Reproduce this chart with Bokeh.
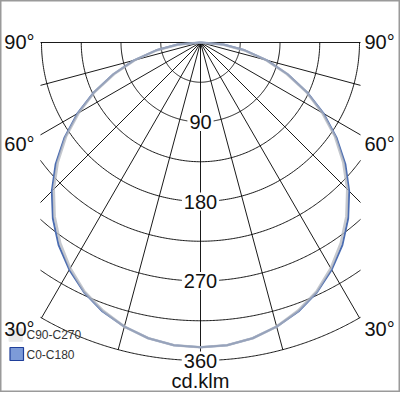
import numpy as np
from bokeh.plotting import figure
from bokeh.models import ColumnDataSource
from bokeh.core.properties import value
from bokeh.embed import file_html
from bokeh.resources import INLINE

# ---- data (cd/klm), angles measured from nadir ----
gamma = [0, 5, 10, 15, 20, 25, 30, 35, 40, 45, 50, 55, 60, 65, 70, 75, 80, 85, 90]
c0_c180 = [345, 344, 340, 333, 324, 312, 297, 280, 260, 238, 214, 188, 161, 133, 105, 78, 51, 26, 0]
c90_c270 = [345, 344, 340, 333, 323, 311, 295, 277, 257, 235, 211, 186, 159, 132, 104, 77, 50, 25, 0]
radial_ticks = [90, 180, 270, 360]
grid_step = 45
ray_angles = [-90, -75, -60, -45, -30, -15, 0, 15, 30, 45, 60, 75, 90]
angle_labels = ["90°", "60°", "30°"]
series_names = ["C90-C270", "C0-C180"]
unit_label = "cd.klm"

# ---- layout (reference pixels) ----
W = 400
H = 392
CX, CY = 200, 42          # pole position in page pixels
PX_PER_UNIT = 318 / 360   # 360 cd/klm -> 318 px
UPP = 1 / PX_PER_UNIT
def sx(px): return (px - CX) * UPP
def sy(py): return -(py - CY) * UPP
XLIM = sx(360)            # horizontal clip of the grid
RMAX = max(radial_ticks)

p = figure(width=W, height=H, output_backend="svg", toolbar_location=None,
           x_range=(sx(0), sx(W)), y_range=(sy(H), sy(0)),
           min_border=0, match_aspect=False)
p.axis.visible = False
p.grid.visible = False
p.outline_line_color = "#9a9a9a"
p.outline_line_width = 2
p.background_fill_color = "white"
p.border_fill_color = "white"

# ---- grid arcs ----
xs, ys = [], []
for R in range(grid_step, RMAX + 1, grid_step):
    if R <= XLIM:
        t = np.linspace(-np.pi / 2, np.pi / 2, 240)
    else:
        tmax = np.arcsin(XLIM / R)
        t = np.linspace(-tmax, tmax, 240)
    xs.append(list(R * np.sin(t)))
    ys.append(list(-R * np.cos(t)))
p.multi_line(xs, ys, line_color="black", line_width=0.9)

# ---- rays ----
rx, ry = [], []
for a in ray_angles:
    t = np.radians(a)
    s, c = np.sin(t), np.cos(t)
    r_end = RMAX
    if abs(s) > 1e-9:
        r_end = min(RMAX, XLIM / abs(s))
    rx.append([0, r_end * s])
    ry.append([0, -r_end * c])
p.multi_line(rx, ry, line_color="black", line_width=0.9)

# ---- curves ----
def polar_curve(vals):
    g = np.radians(np.array(gamma, dtype=float))
    v = np.array(vals, dtype=float)
    left_x = -(v * np.sin(g))[::-1]
    left_y = -(v * np.cos(g))[::-1]
    right_x = v * np.sin(g)
    right_y = -v * np.cos(g)
    return list(np.concatenate([left_x, right_x[1:]])), list(np.concatenate([left_y, right_y[1:]]))

bx, by = polar_curve(c0_c180)
gx, gy = polar_curve(c90_c270)
p.line(bx, by, line_color="#4a6cb2", line_width=2, line_join="round")
p.line(gx, gy, line_color="#b2b6be", line_width=2.6, line_alpha=0.75, line_join="round")

# ---- radial labels with white background ----
lab_src = ColumnDataSource(dict(x=[0] * len(radial_ticks), y=[-r for r in radial_ticks],
                                t=[str(r) for r in radial_ticks]))
p.text("x", "y", text="t", source=lab_src, text_font=value("Liberation Sans"),
       text_font_size="20px", text_align="center", text_baseline="middle",
       text_color="#111111", background_fill_color="white", padding=2)

# ---- legend swatches (below the angle labels) ----
p.quad(left=[sx(8.5)], right=[sx(22)], top=[sy(328)], bottom=[sy(341)],
       fill_color="#e2e2e2", fill_alpha=0.8, line_color="#ececec", line_width=1)
p.quad(left=[sx(9.5)], right=[sx(23)], top=[sy(347)], bottom=[sy(360)],
       fill_color="#7d9bd8", line_color="#1f3f9a", line_width=1.2)

# ---- angle labels ----
ang_y = [sy(41), sy(143), sy(328)]
p.text([sx(34)] * 3, ang_y, text=angle_labels, text_font=value("Liberation Sans"),
       text_font_size="20px", text_align="right", text_baseline="middle", text_color="#111111")
p.text([sx(364)] * 3, ang_y, text=angle_labels, text_font=value("Liberation Sans"),
       text_font_size="20px", text_align="left", text_baseline="middle", text_color="#111111")

# ---- unit label ----
p.text([0], [sy(380)], text=[unit_label], text_font=value("Liberation Sans"),
       text_font_size="20px", text_align="center", text_baseline="middle", text_color="#111111")

# ---- legend labels ----
p.text([sx(26), sx(26)], [sy(334), sy(354)], text=series_names,
       text_font=value("Liberation Sans"), text_font_size="12px",
       text_align="left", text_baseline="middle", text_color="#333333")

open("out.html", "w").write(file_html(p, INLINE))
